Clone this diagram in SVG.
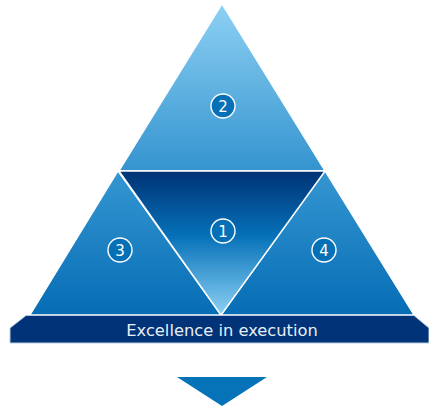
<svg xmlns="http://www.w3.org/2000/svg" width="429" height="409" viewBox="0 0 429 409">
<defs>
<linearGradient id="gTop" x1="0" y1="0" x2="0" y2="1"><stop offset="0" stop-color="#8dd0f3"/><stop offset="1" stop-color="#3494cf"/></linearGradient>
<linearGradient id="gSide" x1="0" y1="0" x2="0" y2="1"><stop offset="0" stop-color="#3596d1"/><stop offset="1" stop-color="#066db5"/></linearGradient>
<linearGradient id="gMid" x1="0" y1="0" x2="0" y2="1"><stop offset="0" stop-color="#003275"/><stop offset="0.45" stop-color="#0671b8"/><stop offset="1" stop-color="#8dd2f4"/></linearGradient>
</defs>
<style>
.tri{stroke:#ffffff;stroke-width:1.3;stroke-linejoin:round}
.badge{fill:#0670b6;stroke:#ffffff;stroke-width:1.4}
.num{fill:#ffffff;font-family:"DejaVu Sans",sans-serif;font-size:15px;text-anchor:middle}
.lbl{fill:#e8eef6;font-family:"DejaVu Sans",sans-serif;font-size:16.3px;text-anchor:middle}
</style>
<g id="node-2"><polygon class="tri" points="222,4 325,171 119,171" fill="url(#gTop)"/><circle class="badge" cx="223" cy="106" r="12"/><text class="num" x="223" y="111.5">2</text></g>
<g id="node-3"><polygon class="tri" points="118,171 221,315 30,315" fill="url(#gSide)"/><circle class="badge" cx="120" cy="250" r="12"/><text class="num" x="120" y="255.5">3</text></g>
<g id="node-4"><polygon class="tri" points="325,171 414,315 221,315" fill="url(#gSide)"/><circle class="badge" cx="324" cy="250" r="12"/><text class="num" x="324" y="255.5">4</text></g>
<g id="node-1"><polygon class="tri" points="119,171 325,171 221,315" fill="url(#gMid)"/><circle class="badge" cx="223" cy="231" r="12"/><text class="num" x="223" y="236.5">1</text></g>
<g id="bar"><polygon points="26,315.5 414,315.5 429,328 429,343 10,343 10,328" fill="#003377" stroke="#b8cde3" stroke-width="1"/><text class="lbl" x="222" y="336">Excellence in execution</text></g>
<g id="connectors"><polygon points="177,377 267,377 222,406" fill="#0672b8"/></g>
</svg>
